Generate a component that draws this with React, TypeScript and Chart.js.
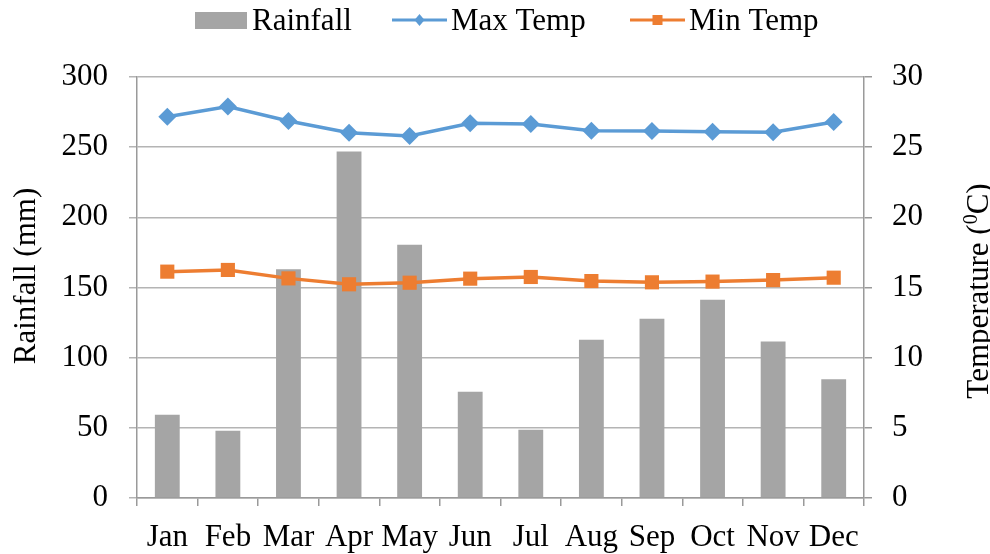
import React, { useEffect, useRef } from 'react';
import { Chart, registerables } from 'chart.js';

Chart.register(...registerables);

const months = ['Jan', 'Feb', 'Mar', 'Apr', 'May', 'Jun', 'Jul', 'Aug', 'Sep', 'Oct', 'Nov', 'Dec'];
const rainfall = [59.3, 47.9, 163, 246.9, 180.4, 75.7, 48.6, 112.7, 127.7, 141.2, 111.5, 84.7];
const maxTemp = [27.17, 27.9, 26.86, 26.03, 25.8, 26.7, 26.65, 26.17, 26.15, 26.1, 26.06, 26.79];
const minTemp = [16.13, 16.25, 15.65, 15.23, 15.34, 15.63, 15.75, 15.46, 15.37, 15.42, 15.53, 15.7];
const seriesLabels = ['Rainfall', 'Max Temp', 'Min Temp'];
const leftTitle = 'Rainfall (mm)';
const rightTitleParts = ['Temperature (', '0', 'C)'];

const FONT = '"Liberation Serif", "Times New Roman", serif';
const GRID = '#b4b4b4';
const AXIS = '#9a9a9a';
const GRAY = '#a5a5a5';
const BLUE = '#5b9bd5';
const ORANGE = '#ed7d31';

const overlayPlugin = {
  id: 'overlay',
  afterDraw(chart: any) {
    const ctx: CanvasRenderingContext2D = chart.ctx;
    ctx.save();
    ctx.fillStyle = '#000';
    ctx.font = `31px ${FONT}`;
    ctx.textBaseline = 'alphabetic';

    // left title
    ctx.save();
    ctx.translate(35, 276);
    ctx.rotate(-Math.PI / 2);
    ctx.textAlign = 'center';
    ctx.fillText(leftTitle, 0, 0);
    ctx.restore();

    // right title with superscript
    ctx.save();
    ctx.translate(988, 291);
    ctx.rotate(-Math.PI / 2);
    ctx.textAlign = 'left';
    ctx.font = `31px ${FONT}`;
    const w1 = ctx.measureText(rightTitleParts[0]).width;
    const w3 = ctx.measureText(rightTitleParts[2]).width;
    ctx.font = `20px ${FONT}`;
    const w2 = ctx.measureText(rightTitleParts[1]).width;
    const total = w1 + w2 + w3;
    let x = -total / 2;
    ctx.font = `31px ${FONT}`;
    ctx.fillText(rightTitleParts[0], x, 0);
    x += w1;
    ctx.font = `20px ${FONT}`;
    ctx.fillText(rightTitleParts[1], x, -11);
    x += w2;
    ctx.font = `31px ${FONT}`;
    ctx.fillText(rightTitleParts[2], x, 0);
    ctx.restore();

    // legend
    const ds = chart.data.datasets;
    const baseY = 30;
    const midY = 20;
    ctx.font = `31px ${FONT}`;
    ctx.textAlign = 'left';
    ctx.fillStyle = GRAY;
    ctx.fillRect(195, 12, 52, 17);
    ctx.fillStyle = '#000';
    ctx.fillText(ds[0].label, 252, baseY);
    ctx.strokeStyle = BLUE;
    ctx.lineWidth = 3;
    ctx.beginPath();
    ctx.moveTo(392, midY);
    ctx.lineTo(447, midY);
    ctx.stroke();
    ctx.fillStyle = BLUE;
    ctx.beginPath();
    ctx.moveTo(419.5, midY - 6);
    ctx.lineTo(424.5, midY);
    ctx.lineTo(419.5, midY + 6);
    ctx.lineTo(414.5, midY);
    ctx.closePath();
    ctx.fill();
    ctx.fillStyle = '#000';
    ctx.fillText(ds[1].label, 451, baseY);
    ctx.strokeStyle = ORANGE;
    ctx.beginPath();
    ctx.moveTo(630, midY);
    ctx.lineTo(685, midY);
    ctx.stroke();
    ctx.fillStyle = ORANGE;
    ctx.fillRect(652.5, midY - 5, 10, 10);
    ctx.fillStyle = '#000';
    ctx.fillText(ds[2].label, 689, baseY);

    ctx.restore();
  },
};

export default function App() {
  const ref = useRef<HTMLCanvasElement | null>(null);

  useEffect(() => {
    if (!ref.current) return;
    Chart.defaults.font.family = FONT;
    const chart = new Chart(ref.current, {
      type: 'bar',
      data: {
        labels: months,
        datasets: [
          {
            type: 'bar',
            label: seriesLabels[0],
            data: rainfall,
            backgroundColor: GRAY,
            yAxisID: 'y',
            categoryPercentage: 1,
            barPercentage: 0.41,
            order: 3,
          },
          {
            type: 'line',
            label: seriesLabels[1],
            data: maxTemp,
            borderColor: BLUE,
            backgroundColor: BLUE,
            borderWidth: 3.5,
            pointStyle: 'rectRot',
            pointRadius: 9,
            pointBorderWidth: 0,
            yAxisID: 'y1',
            order: 1,
          },
          {
            type: 'line',
            label: seriesLabels[2],
            data: minTemp,
            borderColor: ORANGE,
            backgroundColor: ORANGE,
            borderWidth: 3.5,
            pointStyle: 'rect',
            pointRadius: 10,
            pointBorderWidth: 0,
            yAxisID: 'y1',
            order: 2,
          },
        ] as any,
      },
      options: {
        animation: false,
        responsive: true,
        maintainAspectRatio: false,
        layout: { padding: { top: 77, left: 0, right: 0, bottom: 0 } },
        plugins: {
          legend: { display: false },
          tooltip: { enabled: false },
        },
        scales: {
          x: {
            offset: true,
            grid: {
              offset: true,
              drawOnChartArea: false,
              drawTicks: true,
              tickLength: 8,
              color: AXIS,
              lineWidth: 1.5,
            },
            border: { display: true, color: AXIS, width: 1.5 },
            ticks: {
              color: '#000',
              font: { size: 31, family: FONT },
              padding: 13,
              maxRotation: 0,
              autoSkip: false,
            },
            afterFit: (s: any) => {
              s.height = 56;
            },
          },
          y: {
            position: 'left',
            min: 0,
            max: 300,
            ticks: {
              stepSize: 50,
              color: '#000',
              font: { size: 31, family: FONT },
              padding: 21,
            },
            grid: { color: GRID, lineWidth: 1.5, tickLength: 8, drawTicks: true },
            border: { display: true, color: AXIS, width: 1.5 },
            afterFit: (s: any) => {
              s.width = 137;
            },
          },
          y1: {
            position: 'right',
            min: 0,
            max: 30,
            ticks: {
              stepSize: 5,
              color: '#000',
              font: { size: 31, family: FONT },
              padding: 20,
            },
            grid: { drawOnChartArea: false, color: AXIS, lineWidth: 1.5, tickLength: 8, drawTicks: true },
            border: { display: true, color: AXIS, width: 1.5 },
            afterFit: (s: any) => {
              s.width = 126;
            },
          },
        },
      },
      plugins: [overlayPlugin],
    });
    return () => chart.destroy();
  }, []);

  return (
    <div style={{ position: 'absolute', left: 0, top: 0, width: 990, height: 554, background: '#fff' }}>
      <canvas ref={ref} />
    </div>
  );
}
